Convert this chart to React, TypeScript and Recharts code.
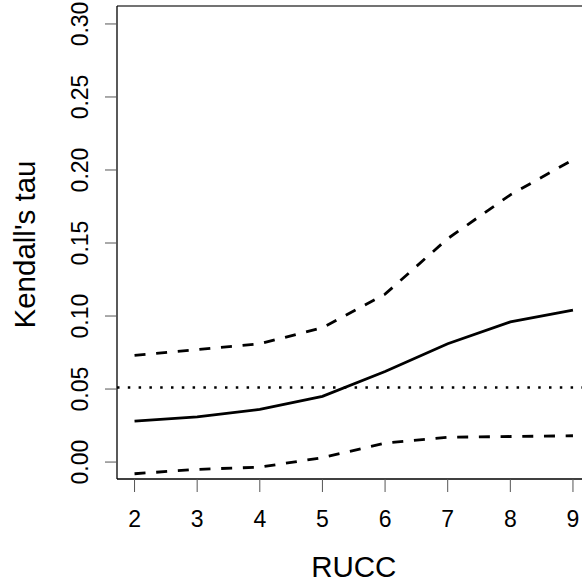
import { LineChart, Line, XAxis, YAxis, ReferenceLine } from 'recharts';

const rucc = [2, 3, 4, 5, 6, 7, 8, 9];
const tau = [0.028, 0.031, 0.036, 0.045, 0.062, 0.081, 0.096, 0.104];
const upper = [0.073, 0.077, 0.081, 0.092, 0.115, 0.153, 0.183, 0.207];
const lower = [-0.008, -0.005, -0.0035, 0.003, 0.013, 0.017, 0.0175, 0.018];
const refTau = 0.051;
const yTicks = [0, 0.05, 0.1, 0.15, 0.2, 0.25, 0.3];
const yLabels = ['0.00', '0.05', '0.10', '0.15', '0.20', '0.25', '0.30'];

const xDomain = [1.72, 9.28];
const yDomain = [-0.0116, 0.3123];

const data = rucc.map((x, i) => ({ x, tau: tau[i], upper: upper[i], lower: lower[i] }));

const FONT = '"Liberation Sans", Arial, Helvetica, sans-serif';

const XTick = (props: any) => {
  const { x, y, payload } = props;
  return (
    <text x={x} y={y + 35} textAnchor="middle" fontSize={23} fontFamily={FONT} fill="#000">
      {payload.value}
    </text>
  );
};

const YTick = (props: any) => {
  const { x, y, payload } = props;
  const idx = yTicks.indexOf(payload.value);
  const bx = x - 17;
  return (
    <text
      x={bx}
      y={y}
      transform={`rotate(-90, ${bx}, ${y})`}
      textAnchor="middle"
      fontSize={23}
      fontFamily={FONT}
      fill="#000"
    >
      {idx >= 0 ? yLabels[idx] : payload.value}
    </text>
  );
};

const YTitle = (props: any) => {
  const { viewBox } = props;
  const cy = viewBox.y + viewBox.height / 2 + 2;
  return (
    <text
      x={35}
      y={cy}
      transform={`rotate(-90, 35, ${cy})`}
      textAnchor="middle"
      fontSize={29.5}
      fontFamily={FONT}
      fill="#000"
    >
      Kendall's tau
    </text>
  );
};

const XTitle = (props: any) => {
  const { viewBox } = props;
  return (
    <text
      x={viewBox.x + viewBox.width / 2}
      y={viewBox.y + 98}
      textAnchor="middle"
      fontSize={29.5}
      fontFamily={FONT}
      fill="#000"
    >
      RUCC
    </text>
  );
};

export default function App() {
  return (
    <div
      style={{
        position: 'absolute',
        left: 0,
        top: 0,
        width: 582,
        height: 583,
        overflow: 'hidden',
        background: '#fff',
      }}
    >
      <LineChart
        width={600}
        height={583}
        data={data}
        margin={{ top: 6, right: 9.5, left: 0, bottom: 0 }}
      >
        <XAxis
          dataKey="x"
          type="number"
          domain={xDomain}
          ticks={rucc}
          interval={0}
          height={104}
          tickSize={13}
          tickMargin={0}
          tickLine={{ stroke: '#555', strokeWidth: 1 }}
          axisLine={{ stroke: '#000', strokeWidth: 1.3 }}
          tick={<XTick />}
          label={<XTitle />}
          allowDataOverflow
        />
        <YAxis
          type="number"
          domain={yDomain}
          ticks={yTicks}
          interval={0}
          width={117}
          tickSize={12}
          tickMargin={0}
          tickLine={{ stroke: '#555', strokeWidth: 1 }}
          axisLine={{ stroke: '#000', strokeWidth: 1.3 }}
          tick={<YTick />}
          label={<YTitle />}
          allowDataOverflow
        />
        <ReferenceLine y={yDomain[1]} stroke="#444" strokeWidth={1.3} />
        <ReferenceLine y={refTau} stroke="#000" strokeWidth={2.5} strokeDasharray="2.5 8.3" />
        <Line
          dataKey="upper"
          stroke="#000"
          strokeWidth={2.8}
          strokeDasharray="11 10.7"
          dot={false}
          isAnimationActive={false}
        />
        <Line dataKey="tau" stroke="#000" strokeWidth={2.8} dot={false} isAnimationActive={false} />
        <Line
          dataKey="lower"
          stroke="#000"
          strokeWidth={2.8}
          strokeDasharray="11 10.7"
          dot={false}
          isAnimationActive={false}
        />
      </LineChart>
    </div>
  );
}
